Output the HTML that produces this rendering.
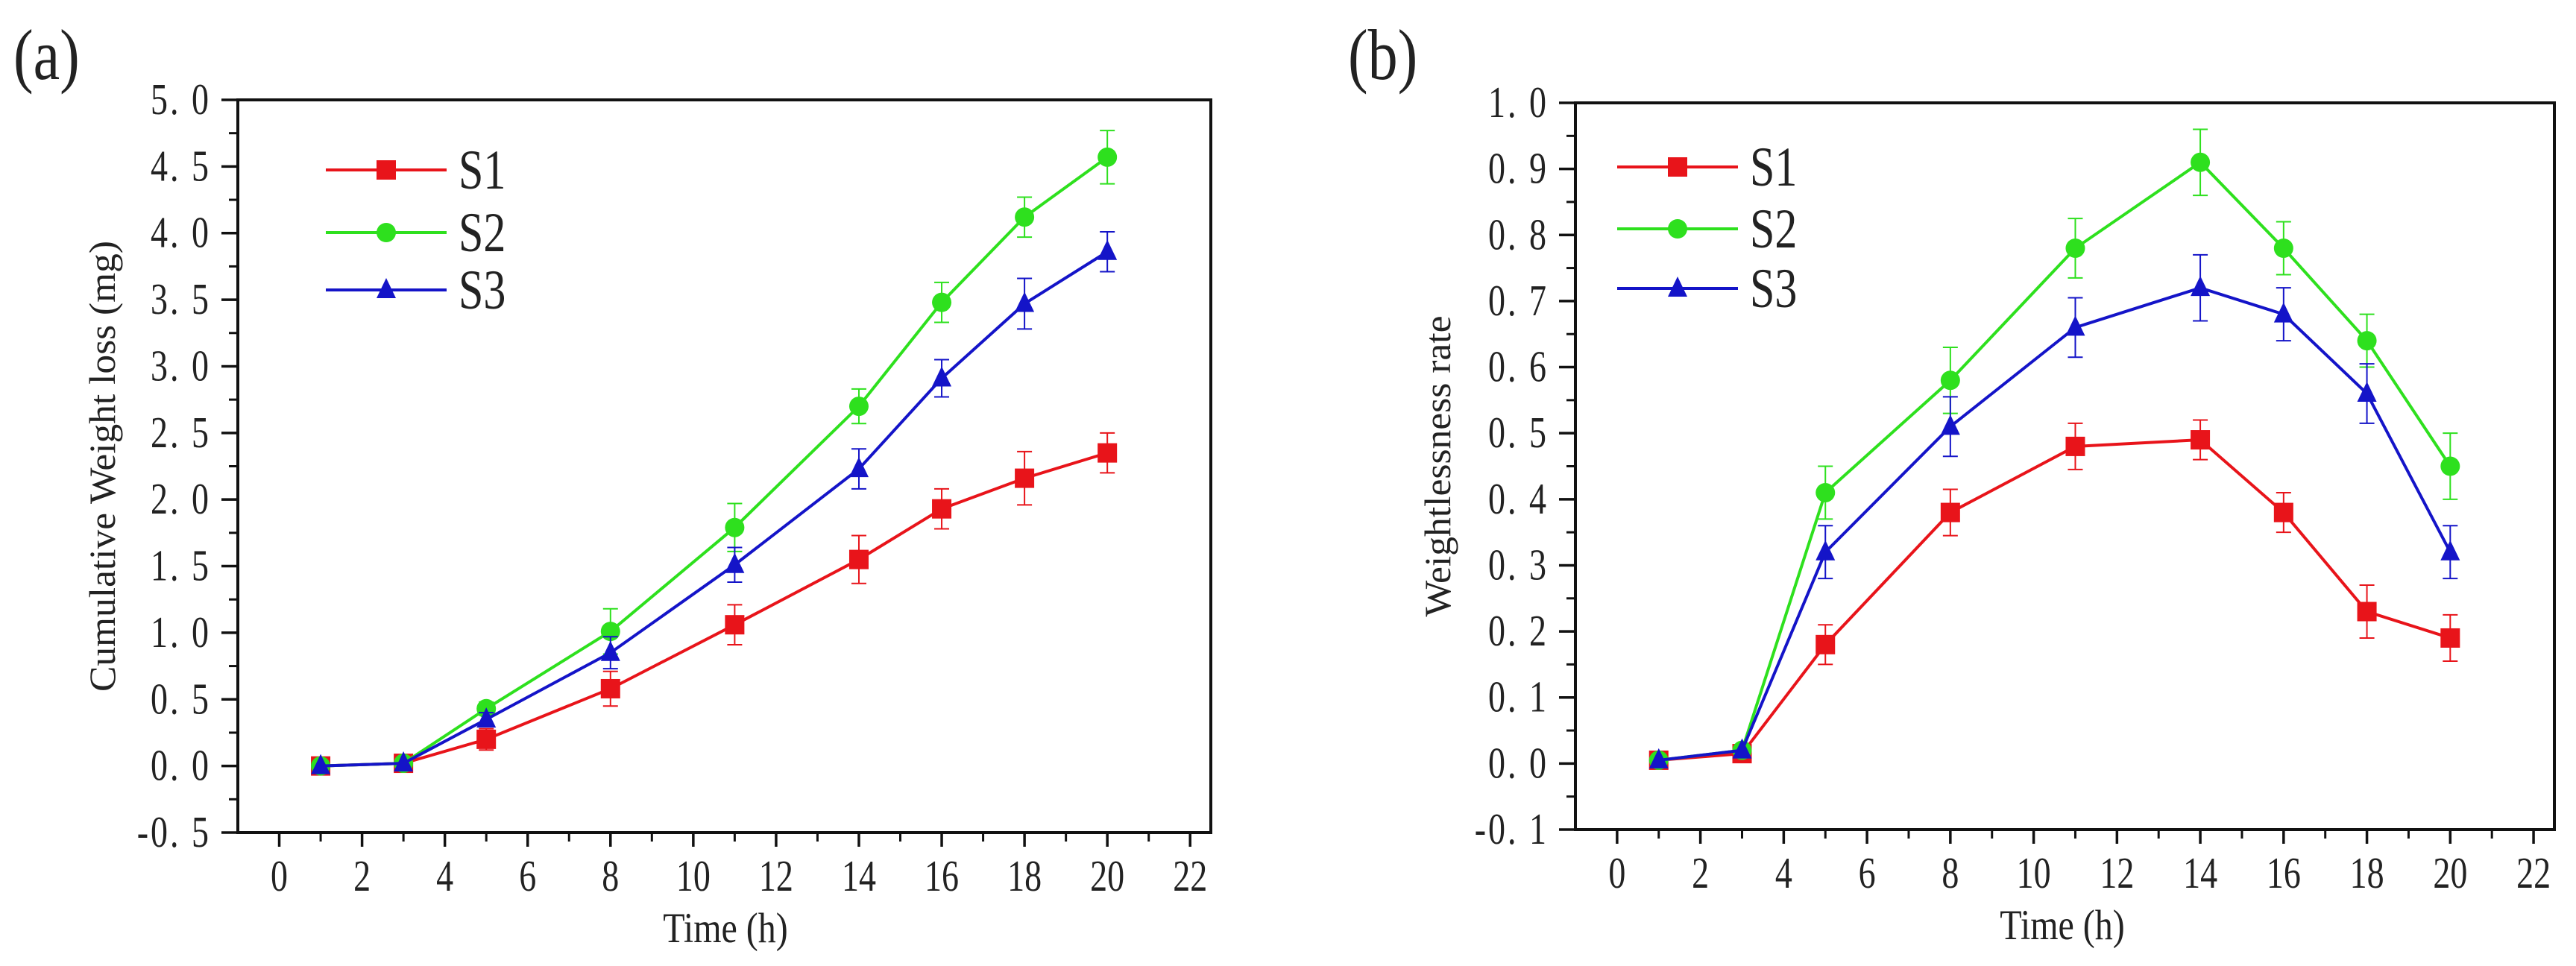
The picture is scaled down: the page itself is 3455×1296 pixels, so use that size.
<!DOCTYPE html>
<html><head><meta charset="utf-8"><style>
html,body{margin:0;padding:0;background:#fff}
svg{display:block}
text{font-family:"Liberation Serif",serif;fill:#222}
</style></head><body>
<svg id="fig" width="3455" height="1296" viewBox="0 0 3455 1296" xmlns="http://www.w3.org/2000/svg"></svg>
<script>
const xs = [1,3,5,8,11,14,16,18,20];
const xTicks = [0,2,4,6,8,10,12,14,16,18,20,22];
const seriesNames = ["S1","S2","S3"];
const colors = ["#e8141a","#2ee01e","#1414c8"];
// panel a
const aS1 = [0,0.02,0.2,0.58,1.06,1.55,1.93,2.16,2.35];
const aS2 = [0,0.02,0.43,1.01,1.79,2.7,3.48,4.12,4.57];
const aS3 = [0,0.02,0.35,0.85,1.51,2.23,2.91,3.47,3.86];
const aE1 = [0,0,0.08,0.13,0.15,0.18,0.15,0.2,0.15];
const aE2 = [0,0,0.05,0.17,0.18,0.13,0.15,0.15,0.2];
const aE3 = [0,0,0.05,0.12,0.13,0.15,0.14,0.19,0.15];
const aYTicks = [-0.5,0,0.5,1,1.5,2,2.5,3,3.5,4,4.5,5];
// panel b
const bS1 = [0.005,0.015,0.18,0.38,0.48,0.49,0.38,0.23,0.19];
const bS2 = [0.005,0.02,0.41,0.58,0.78,0.91,0.78,0.64,0.45];
const bS3 = [0.005,0.02,0.32,0.51,0.66,0.72,0.68,0.56,0.32];
const bE1 = [0,0,0.03,0.035,0.035,0.03,0.03,0.04,0.035];
const bE2 = [0,0,0.04,0.05,0.045,0.05,0.04,0.04,0.05];
const bE3 = [0,0,0.04,0.045,0.045,0.05,0.04,0.045,0.04];
const bYTicks = [-0.1,0,0.1,0.2,0.3,0.4,0.5,0.6,0.7,0.8,0.9,1.0];

const NS="http://www.w3.org/2000/svg";
const svg=document.getElementById('fig');
function mk(tag,attrs,parent){const e=document.createElementNS(NS,tag);for(const k in attrs)e.setAttribute(k,attrs[k]);(parent||svg).appendChild(e);return e;}
function fmt(v){const s=v.toFixed(1);return s.replace('.', '. ');}

function marker(g,i,cx,cy){
  let m;
  if(i===0) m=mk('rect',{x:cx-13,y:cy-13,width:26,height:26,fill:colors[0]},g);
  else if(i===1) m=mk('circle',{cx:cx,cy:cy,r:13,fill:colors[1]},g);
  else m=mk('polygon',{points:`${cx},${cy-16} ${cx+13},${cy+11} ${cx-13},${cy+11}`,fill:colors[2]},g);
  
  
}

function panel(p){
  const g=mk('g',{});
  
  
  const X=v=>p.L+(v-(-1))/(23.5)*(p.R-p.L);
  const Y=v=>p.B-(v-p.ymin)/(p.ymax-p.ymin)*(p.B-p.T);
  const lab=mk('text',{x:0,y:0,'font-size':80,transform:`translate(${p.labX},106) scale(1,1.2)`},g);lab.textContent='('+p.id+')';
  
  const box=mk('rect',{x:p.L,y:p.T,width:p.R-p.L,height:p.B-p.T,fill:'none',stroke:'#111','stroke-width':4},g);
  
  const step=p.yTicks[1]-p.yTicks[0];
  p.yTicks.forEach((v,k)=>{
    const y=Y(v);
    mk('line',{x1:p.L-22,x2:p.L,y1:y,y2:y,stroke:'#111','stroke-width':3.5},g);
    if(k<p.yTicks.length-1){const ym=Y(v+step/2);mk('line',{x1:p.L-12,x2:p.L,y1:ym,y2:ym,stroke:'#111','stroke-width':3},g);}
    const t=mk('text',{x:0,y:0,'font-size':46,'text-anchor':'end','letter-spacing':3,transform:`translate(${p.L-36},${y+19}) scale(1,1.3)`},g);t.textContent=fmt(v);
    
  });
  xTicks.forEach(v=>{
    const x=X(v);
    mk('line',{x1:x,x2:x,y1:p.B,y2:p.B+19,stroke:'#111','stroke-width':3.5},g);
    const xm=X(v+1);if(v<22) mk('line',{x1:xm,x2:xm,y1:p.B,y2:p.B+12,stroke:'#111','stroke-width':3},g);
    const t=mk('text',{x:0,y:0,'font-size':46,'text-anchor':'middle',transform:`translate(${x},${p.B+78}) scale(1,1.3)`},g);t.textContent=String(v);
    
  });
  const xt=mk('text',{x:0,y:0,'font-size':48,'text-anchor':'middle',transform:`translate(${p.xtX},${p.B+147}) scale(1,1.2)`},g);xt.textContent='Time  (h)';
  
  const yt=mk('text',{x:0,y:0,'font-size':50,'text-anchor':'middle','dominant-baseline':'central',textLength:p.ytLen,lengthAdjust:'spacingAndGlyphs',transform:`translate(${p.ytX},${(p.T+p.B)/2}) rotate(-90)`},g);yt.textContent=p.ytitle;
  
  p.series.forEach((ys,i)=>{
    const sg=mk('g',{},g);
    
    
    const errs=p.errs[i];
    xs.forEach((xv,k)=>{ if(errs[k]>0){
      const x=X(xv),y1=Y(ys[k]-errs[k]),y2=Y(ys[k]+errs[k]);
      mk('path',{d:`M${x},${y1}V${y2}M${x-10},${y1}H${x+10}M${x-10},${y2}H${x+10}`,stroke:colors[i],'stroke-width':2,fill:'none'},sg);
    }});
    mk('polyline',{points:xs.map((xv,k)=>X(xv)+','+Y(ys[k])).join(' '),fill:'none',stroke:colors[i],'stroke-width':4},sg);
    xs.forEach((xv,k)=>marker(sg,i,X(xv),Y(ys[k])));
    const lg=mk('g',{},g);
    
    
    const ly=p.legY[i];
    mk('line',{x1:p.legX,x2:p.legX+162,y1:ly,y2:ly,stroke:colors[i],'stroke-width':4},lg);
    marker(lg,i,p.legX+81,ly);
    const lt=mk('text',{x:0,y:0,'font-size':60,transform:`translate(${p.legX+178},${ly+25}) scale(1,1.25)`},lg);lt.textContent=seriesNames[i];
  });
}
panel({id:'a',L:319,R:1624,T:134,B:1117,ymin:-0.5,ymax:5,yTicks:aYTicks,series:[aS1,aS2,aS3],errs:[aE1,aE2,aE3],
  labX:18,ytX:137,ytLen:605,xtX:973,ytitle:'Cumulative Weight loss (mg)',legX:437,legY:[228,312,389]});
panel({id:'b',L:2113,R:3426,T:138,B:1113,ymin:-0.1,ymax:1.0,yTicks:bYTicks,series:[bS1,bS2,bS3],errs:[bE1,bE2,bE3],
  labX:1808,ytX:1928,ytLen:404,xtX:2766,ytitle:'Weightlessness rate',legX:2169,legY:[224,307,387]});
</script>
</body></html>
